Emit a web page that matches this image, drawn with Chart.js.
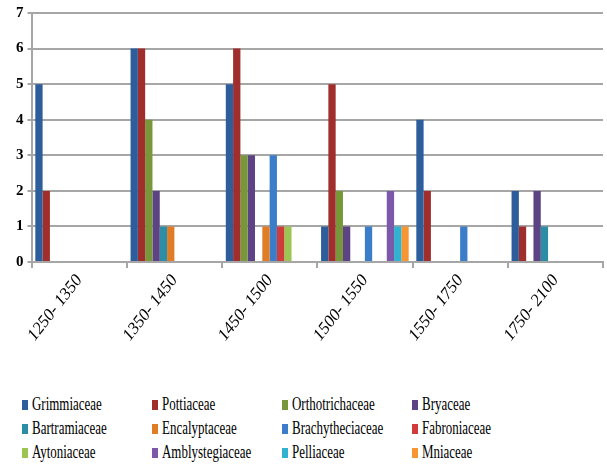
<!DOCTYPE html>
<html>
<head>
<meta charset="utf-8">
<script src="https://cdn.jsdelivr.net/npm/chart.js@4"></script>
<style>
  html, body { margin: 0; padding: 0; background: #fff; }
  #wrap { position: relative; width: 607px; height: 473px; }
  #box { position: absolute; left: 0; top: 0; width: 607px; height: 348px; }
  #legend {
    position: absolute; left: 22px; top: 395px;
    display: grid; grid-template-columns: 130px 130px 130px 130px;
    row-gap: 5px;
    font-family: 'Liberation Serif', serif; font-size: 18px; color: #000;
  }
  .item { display: flex; align-items: center; height: 19px; white-space: nowrap; }
  .swatch { flex: 0 0 6px; width: 6px; height: 10px; margin-right: 4px; }
  .txt { display: inline-block; transform: scaleX(0.72); transform-origin: left center; }
</style>
</head>
<body>
<div id="wrap">
  <div id="box"><canvas id="my_chart"></canvas></div>
  <div id="legend"></div>
</div>
<script>
const periods = ['1250- 1350', '1350- 1450', '1450- 1500', '1500- 1550', '1550- 1750', '1750- 2100'];

const families = ['Grimmiaceae', 'Pottiaceae', 'Orthotrichaceae', 'Bryaceae',
    'Bartramiaceae', 'Encalyptaceae', 'Brachytheciaceae', 'Fabroniaceae',
    'Aytoniaceae', 'Amblystegiaceae', 'Pelliaceae', 'Mniaceae'];

const grimmiaceae      = [5, 6, 5, 1, 4, 2];
const pottiaceae       = [2, 6, 6, 5, 2, 1];
const orthotrichaceae  = [0, 4, 3, 2, 0, 0];
const bryaceae         = [0, 2, 3, 1, 0, 2];
const bartramiaceae    = [0, 1, 0, 0, 0, 1];
const encalyptaceae    = [0, 1, 1, 0, 0, 0];
const brachytheciaceae = [0, 0, 3, 1, 1, 0];
const fabroniaceae     = [0, 0, 1, 0, 0, 0];
const aytoniaceae      = [0, 0, 1, 0, 0, 0];
const amblystegiaceae  = [0, 0, 0, 2, 0, 0];
const pelliaceae       = [0, 0, 0, 1, 0, 0];
const mniaceae         = [0, 0, 0, 1, 0, 0];

const y_ticks = [0, 1, 2, 3, 4, 5, 6, 7];

const series = [grimmiaceae, pottiaceae, orthotrichaceae, bryaceae,
    bartramiaceae, encalyptaceae, brachytheciaceae, fabroniaceae,
    aytoniaceae, amblystegiaceae, pelliaceae, mniaceae];

const colors = ['#2d5e9b', '#a02e2c', '#78973a', '#5c4384',
    '#2b8ea4', '#e07b26', '#3b7dc8', '#cf3c3b',
    '#9bc452', '#7b58a9', '#30b2d0', '#f79532'];

const grid_color = '#a6a6a6';

const canvas = document.getElementById('my_chart');

let chart = new Chart(canvas, {
    type: 'bar',
    data: {
        labels: periods,
        datasets: series.map((values, i) => ({
            label: families[i],
            data: values,
            backgroundColor: colors[i],
            borderWidth: 0
        }))
    },
    options: {
        responsive: true,
        maintainAspectRatio: false,
        animation: false,
        devicePixelRatio: 1,
        layout: { padding: { left: 12, right: 4, top: 5, bottom: 0 } },
        datasets: { bar: { categoryPercentage: 0.92, barPercentage: 1 } },
        plugins: {
            legend: { display: false },
            tooltip: { enabled: false }
        },
        scales: {
            x: {
                grid: {
                    display: true, drawOnChartArea: false, offset: true,
                    color: grid_color, lineWidth: 2, tickLength: 6
                },
                border: { color: grid_color, width: 2 },
                ticks: {
                    minRotation: 52, maxRotation: 52,
                    color: '#000',
                    font: { family: "'Liberation Serif', serif", style: 'italic', size: 17 }
                }
            },
            y: {
                min: 0, max: 7,
                afterBuildTicks: (axis) => { axis.ticks = y_ticks.map(v => ({ value: v })); },
                grid: { color: grid_color, lineWidth: 2, tickLength: 4 },
                border: { color: grid_color, width: 2 },
                ticks: {
                    color: '#000', padding: 4,
                    font: { family: "'Liberation Serif', serif", weight: 'bold', size: 15 }
                }
            }
        }
    }
});

// legend in a 4 column grid, built from the chart's datasets
const legend = document.getElementById('legend');
chart.data.datasets.forEach(ds => {
    const item = document.createElement('div');
    item.className = 'item';
    const sw = document.createElement('span');
    sw.className = 'swatch';
    sw.style.background = ds.backgroundColor;
    const t = document.createElement('span');
    t.className = 'txt';
    t.textContent = ds.label;
    item.appendChild(sw);
    item.appendChild(t);
    legend.appendChild(item);
});
</script>
</body>
</html>
